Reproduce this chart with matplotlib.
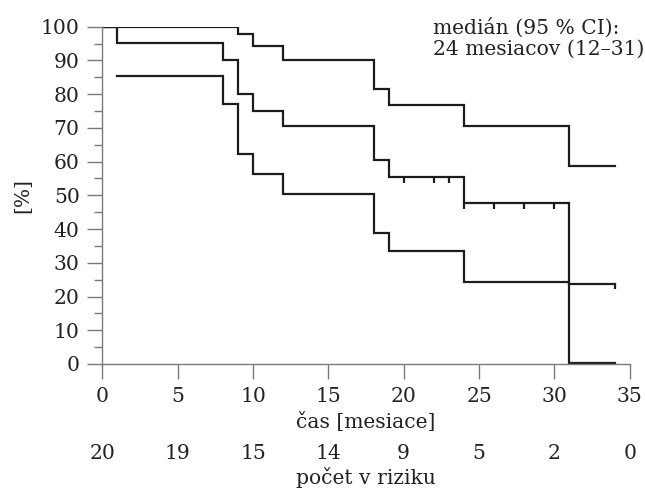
import numpy as np
from matplotlib import pyplot as plt
from matplotlib.transforms import blended_transform_factory

# Kaplan-Meier estimate with 95% CI
time_mid = [0, 1, 8, 9, 10, 12, 18, 19, 24, 31, 34]
surv_mid = [100, 95.2, 90.1, 80.0, 75.1, 70.6, 60.4, 55.3, 47.6, 23.8, 23.8]

time_up = [0, 9, 10, 12, 18, 19, 24, 31, 34]
surv_up = [100, 97.7, 94.4, 90.1, 81.5, 76.9, 70.7, 58.7, 58.7]

time_lo = [1, 8, 9, 10, 12, 18, 19, 24, 31, 34]
surv_lo = [85.5, 77.0, 62.3, 56.2, 50.3, 38.9, 33.5, 24.2, 0.4, 0.4]

censor_times = [20, 22, 23, 24, 26, 28, 30, 34]

risk_times = [0, 5, 10, 15, 20, 25, 30, 35]
at_risk = [20, 19, 15, 14, 9, 5, 2, 0]

plt.rcParams["font.family"] = "DejaVu Serif"
plt.rcParams["font.size"] = 14.6

line_col = "#1c1c1c"
axis_col = "#7a7a7a"
text_col = "#222222"

fig = plt.figure(figsize=(6.45, 4.88), dpi=100)
ax = fig.add_axes([0.1586, 0.2541, 0.8177, 0.6912])

for t, s in [(time_up, surv_up), (time_mid, surv_mid), (time_lo, surv_lo)]:
    ax.step(t, s, where="post", color=line_col, lw=1.6, solid_joinstyle="miter")

# censoring marks hang down from the estimate
tm = np.array(time_mid)
sm = np.array(surv_mid)
for c in censor_times:
    y = sm[np.searchsorted(tm, c, side="right") - 1]
    ax.plot([c, c], [y, y - 1.7], color=line_col, lw=1.6, solid_capstyle="butt")

ax.set_xlim(0, 35)
ax.set_ylim(0, 100)
ax.set_xticks(np.arange(0, 36, 5))
ax.set_yticks(np.arange(0, 101, 10))
ax.set_yticks(np.arange(5, 100, 10), minor=True)

for side in ["top", "right"]:
    ax.spines[side].set_visible(False)
for side in ["left", "bottom"]:
    ax.spines[side].set_color(axis_col)
    ax.spines[side].set_linewidth(1.0)

ax.tick_params(axis="both", which="major", length=10.8, width=1.0, color=axis_col,
               labelcolor=text_col, pad=5.5)
ax.tick_params(axis="y", which="minor", length=5.6, width=1.0, color=axis_col)

ax.set_ylabel("[%]", color=text_col)
ax.yaxis.set_label_coords(-0.133, 0.5)

ax.text(0.5, -0.171, "čas [mesiace]", transform=ax.transAxes, ha="center", va="center",
        color=text_col)

trans = blended_transform_factory(ax.transData, ax.transAxes)
for t, n in zip(risk_times, at_risk):
    ax.text(t, -0.266, str(n), transform=trans, ha="center", va="center", color=text_col)
ax.text(0.5, -0.336, "počet v riziku", transform=ax.transAxes, ha="center", va="center",
        color=text_col)

ax.text(21.95, 102.6, "medián (95 % CI):\n24 mesiacov (12–31)", ha="left", va="top",
        color=text_col, linespacing=1.08, clip_on=False)

fig.savefig("out.png", dpi=100)
